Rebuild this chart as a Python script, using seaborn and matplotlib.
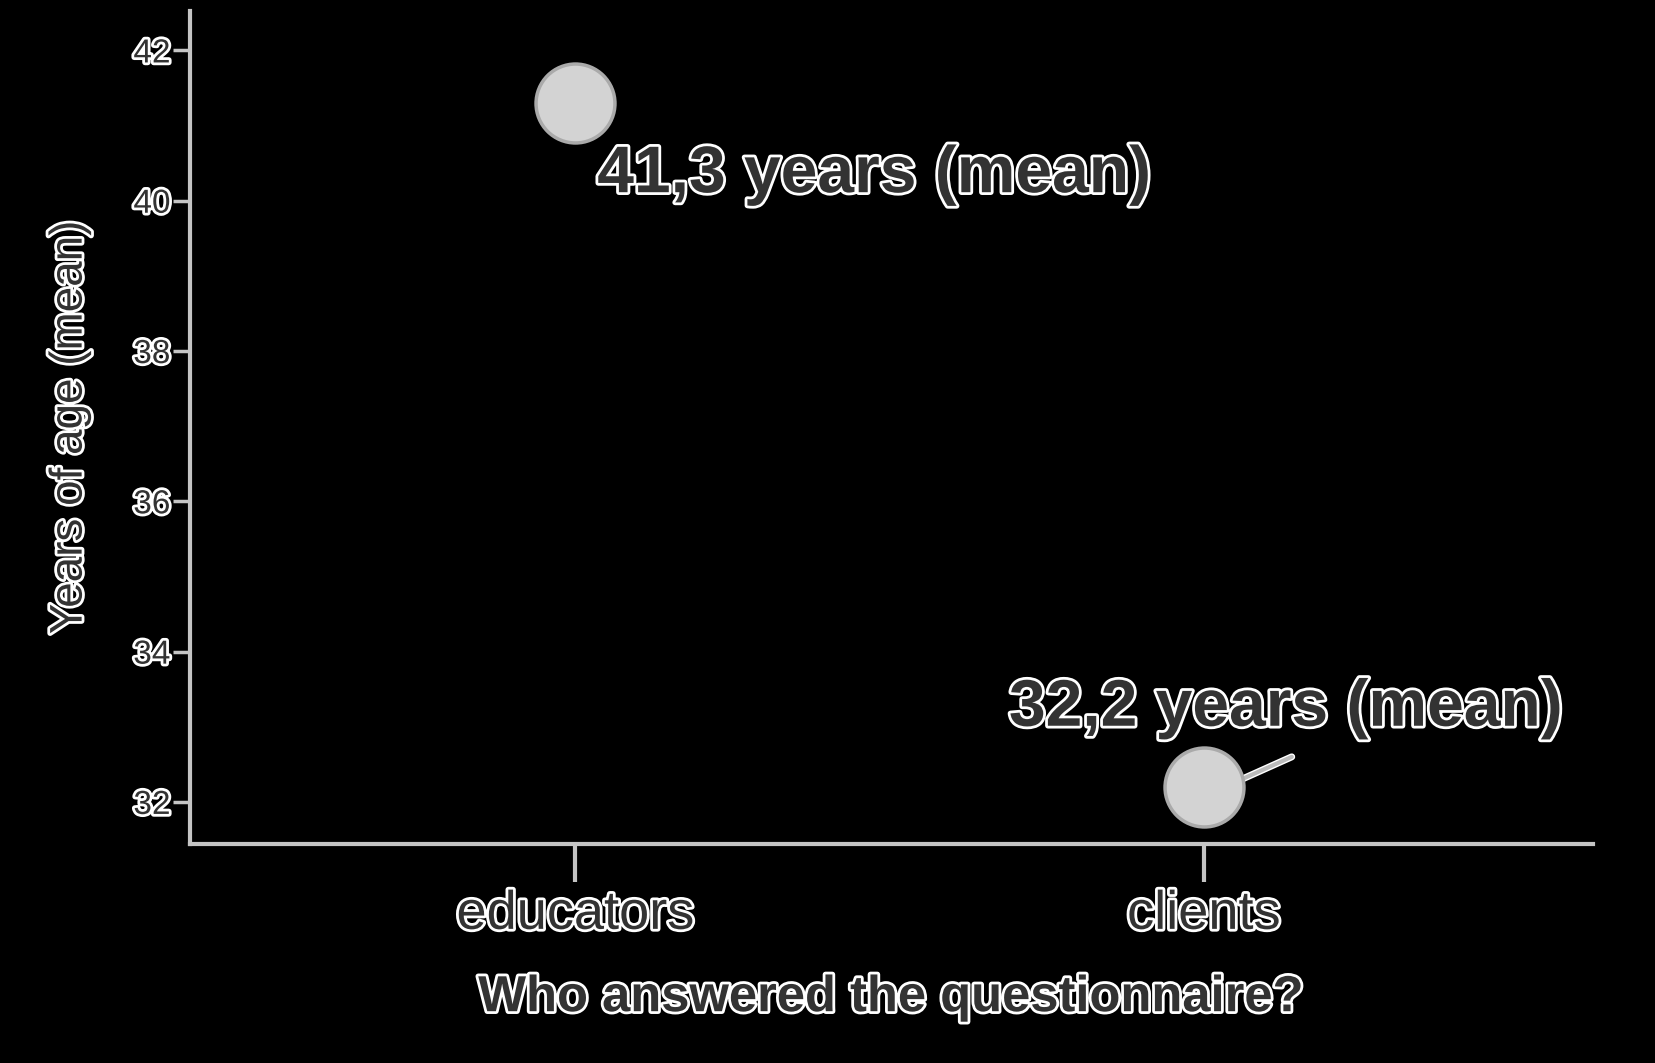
import pandas as pd
import matplotlib
matplotlib.use("Agg")
import matplotlib.pyplot as plt
import matplotlib.patheffects as pe
import seaborn as sns

groups = ["educators", "clients"]
mean_age = [41.3, 32.2]
labels = ["41,3 years (mean)", "32,2 years (mean)"]
y_ticks = [32, 34, 36, 38, 40, 42]

df = pd.DataFrame({"group": groups, "age": mean_age})

sns.set_style("white")
plt.rcParams["font.family"] = ["Liberation Sans", "DejaVu Sans"]

text_col = "#333333"
halo = [pe.withStroke(linewidth=4, foreground="white")]
axis_col = "#c4c4c4"

fig = plt.figure(figsize=(16.55, 10.63), dpi=100, facecolor="black")
ax = fig.add_axes([0.1148, 0.206, 0.848, 0.784])
ax.set_facecolor("black")

sns.scatterplot(data=df, x="group", y="age", s=3230, color="#d3d3d3",
                edgecolor="#aaaaaa", linewidth=2.5, ax=ax, zorder=3, legend=False)

ax.set_xlim(-0.613, 1.62)
ax.set_ylim(31.44, 42.53)
ax.set_yticks(y_ticks)

# value labels
ax.annotate(labels[0], xy=(0, mean_age[0]), xytext=(0.035, 40.34),
            fontsize=47.5, fontweight="bold", color=text_col, path_effects=halo,
            ha="left", va="center")
ax.annotate(labels[1], xy=(1, mean_age[1]), xytext=(0.69, 33.24),
            fontsize=47.5, fontweight="bold", color=text_col, path_effects=halo,
            ha="left", va="center")
ax.plot([1.06, 1.14], [32.3, 32.6], color="#bbbbbb", lw=3, zorder=2,
        path_effects=[pe.withStroke(linewidth=5, foreground="white")])

for side in ["top", "right"]:
    ax.spines[side].set_visible(False)
for side in ["left", "bottom"]:
    ax.spines[side].set_color(axis_col)
    ax.spines[side].set_linewidth(3)

ax.tick_params(axis="y", length=12, width=2.5, color=axis_col, labelsize=24,
               labelcolor=text_col, pad=2, left=True)
ax.tick_params(axis="x", length=27, width=3, color=axis_col, labelsize=39,
               labelcolor=text_col, pad=6, bottom=True)
for t in ax.get_xticklabels() + ax.get_yticklabels():
    t.set_path_effects(halo)

ax.set_xlabel("Who answered the questionnaire?", fontsize=36.5, color=text_col,
              fontweight="bold", labelpad=24, path_effects=halo)
ax.set_ylabel("Years of age (mean)", fontsize=33, color=text_col,
              labelpad=30, path_effects=halo)

fig.savefig("out.png", dpi=100, facecolor="black")
